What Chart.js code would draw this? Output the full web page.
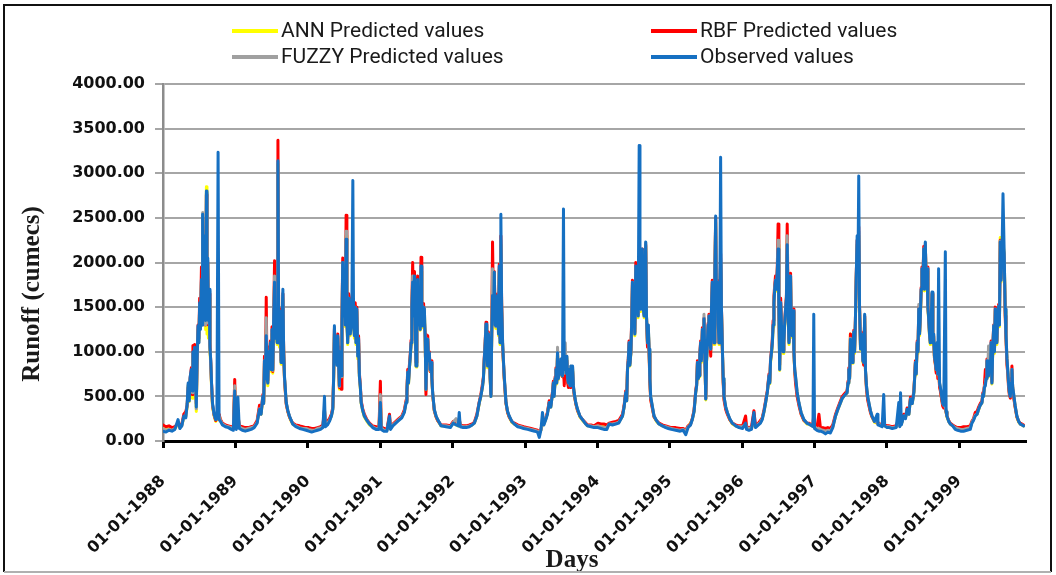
<!DOCTYPE html>
<html>
<head>
<meta charset="utf-8">
<script src="https://cdn.jsdelivr.net/npm/chart.js@4.4.1/dist/chart.umd.min.js"></script>
<style>
  html, body { margin: 0; padding: 0; background: #fff; }
  canvas { display: block; }
</style>
</head>
<body>
<canvas id="runoffChart" width="1056" height="575"></canvas>
<script>
// x axis: day number counted from 01-01-1988
const yearTicks = [0, 366, 731, 1096, 1461, 1827, 2192, 2557, 2922, 3288, 3653, 4018];
const yearLabels = ['01-01-1988', '01-01-1989', '01-01-1990', '01-01-1991', '01-01-1992', '01-01-1993',
                    '01-01-1994', '01-01-1995', '01-01-1996', '01-01-1997', '01-01-1998', '01-01-1999'];

// sample days (one line per year)
const days = [
  0,15,30,45,60,76,85,95,105,115, 122,127,132,137,143,148,151,156,160,165, 168,172,177,181,185,189,194,197,200,203, 206,209,212,215,219,222,226,229,233,237, 241,245,250,258,266,272,278,283,290,300, 315,330,345,355,362,366,
  370,378,385,400,415,430,445,460,475,487, 495,504,508,512,517,521,525,529,533,538, 542,546,550,554,559,563,567,571,576,580, 584,588,592,596,600,605,609,613,618,622, 630,638,647,655,670,689,705,722,
  735,750,765,780,795,807,815,819,830,840, 850,857,861,865,870,874,878,882,886,890, 894,899,903,907,911,916,920,924,928,932, 937,941,945,949,953,958,962,966,970,974, 978,983,987,991,996,1000,1008,1016,1029,1042, 1058,1075,1090,
  1097,1101,1115,1130,1143,1148,1160,1175,1190,1205, 1218,1227,1231,1235,1239,1243,1248,1252,1256,1260, 1264,1269,1273,1277,1281,1285,1289,1294,1298,1302, 1306,1311,1315,1319,1323,1327,1332,1336,1340,1344, 1348,1353,1357,1361,1369,1378,1386,1403,1428,1450,
  1465,1479,1490,1495,1500,1515,1530,1546,1560,1571, 1584,1596,1604,1613,1617,1621,1626,1630,1634,1638, 1642,1647,1651,1655,1659,1663,1668,1672,1676,1680, 1684,1689,1693,1697,1701,1705,1709,1714,1718,1722, 1727,1731,1739,1747,1760,1773,1790,1806,1820,
  1840,1857,1875,1890,1899,1907,1915,1922,1932,1940, 1949,1957,1966,1970,1974,1979,1983,1987,1991,1995, 2000,2004,2008,2012,2016,2021,2025,2030,2034,2038, 2042,2046,2050,2054,2058,2063,2067,2071,2075,2083, 2092,2104,2117,2130,2142,2160,2176,
  2195,2210,2225,2240,2251,2268,2285,2300,2319,2327, 2335,2340,2344,2348,2352,2356,2361,2365,2369,2373, 2377,2381,2386,2390,2394,2398,2403,2407,2411,2415, 2419,2423,2428,2432,2436,2440,2445,2449,2453,2457, 2461,2470,2478,2490,2503,2520,2537,2550,
  2565,2587,2610,2625,2638,2650,2662,2671,2680,2688, 2693,2697,2701,2705,2709,2713,2717,2722,2726,2730, 2734,2739,2743,2747,2751,2755,2760,2764,2768,2772, 2776,2781,2785,2789,2793,2797,2802,2806,2810,2814, 2818,2823,2827,2831,2840,2848,2860,2873,2890,2907,
  2925,2940,2945,2957,2970,2982,2990,3005,3015,3024, 3033,3041,3050,3058,3062,3066,3071,3075,3079,3083, 3087,3091,3096,3100,3104,3108,3112,3117,3121,3125, 3129,3133,3137,3142,3146,3150,3155,3159,3163,3167, 3171,3175,3180,3184,3188,3192,3200,3209,3220,3234, 3250,3259,3275,
  3280,3284,3288,3300,3310,3318,3330,3343,3355,3368, 3380,3394,3405,3419,3428,3436,3444,3452,3457,3461, 3465,3469,3473,3478,3482,3486,3490,3494,3498,3503, 3507,3511,3515,3520,3524,3528,3532,3536,3541,3545, 3550,3556,3562,3570,3578,3590,3604,3608,3620,3629, 3637,3642,3654,
  3665,3680,3700,3713,3718,3722,3726,3738,3747,3755, 3764,3772,3781,3789,3793,3797,3801,3806,3810,3814, 3818,3822,3826,3830,3835,3839,3843,3847,3851,3856, 3860,3864,3868,3872,3876,3881,3885,3889,3893,3898, 3902,3906,3910,3914,3919,3923,3927,3931,3935,3940, 3948,3952,3956,3965,3973,3985,3998,4010,
  4025,4040,4057,4074,4082,4090,4099,4108,4116,4124, 4133,4137,4141,4145,4150,4154,4158,4162,4166,4170, 4175,4179,4183,4187,4192,4196,4200,4204,4208,4212, 4217,4221,4225,4229,4234,4239,4245,4250,4254,4259, 4263,4267,4271,4276,4280,4284,4288,4292,4300,4309, 4318,4326,4335,4343
];

const observed = [
  110,100,120,110,130,240,140,170,280,260, 420,650,450,720,800,560,1000,820,1050,700, 380,900,1290,1100,1550,1250,1810,1300,2540,1600, 2100,1500,2300,1350,2800,1500,2050,1350,1700,1050, 900,650,420,300,240,260,3235,240,220,180, 160,150,130,120,560,150,
  130,490,140,120,110,120,130,150,200,355, 300,500,420,900,700,1180,700,650,1000,840, 1100,800,1250,800,1400,1780,1150,1450,1100,3140, 1200,1100,1450,880,1300,1700,1000,730,560,430, 340,280,230,190,160,140,130,120,
  110,100,110,120,130,150,500,160,180,220, 280,355,700,1290,900,1100,850,1180,900,620, 1000,730,1300,2000,1400,1780,1300,2260,1350,1100, 1600,1550,1200,1290,1450,2920,1300,1180,1500,1100, 1480,950,1150,730,600,430,340,280,230,190, 150,130,130,
  430,130,110,110,280,130,170,200,230,260, 320,430,550,770,650,800,950,1100,1500,1780, 1400,1850,1300,840,1450,1810,1300,1480,1250,1960, 1350,1290,1500,1480,1150,580,1100,1140,900,990, 800,880,700,540,355,280,240,170,160,150,
  200,180,170,320,160,150,150,160,180,200, 280,430,500,620,700,900,1100,1310,1000,840, 1200,1100,700,500,1200,1630,1400,1890,1300,1290, 1500,1630,1200,1960,1100,2540,1500,1100,900,730, 560,430,330,280,220,190,160,150,140,
  130,120,110,100,40,120,320,180,240,300, 430,380,540,650,500,700,800,650,990,700, 770,880,920,750,730,2600,800,950,760,950, 700,650,800,620,840,700,840,620,540,430, 355,280,240,200,170,160,150,
  150,140,130,130,190,180,190,200,280,380, 540,450,800,900,1100,850,990,1300,1780,1400, 1480,1200,1960,1450,1630,1400,3310,1600,1480,1900, 2150,1500,1400,1800,2230,1400,1100,1300,1030,700, 500,380,280,230,190,170,150,140,
  130,120,110,120,70,150,180,240,330,540, 620,880,700,730,950,1100,900,1250,1000,1370, 1000,470,900,1100,1300,1400,1100,1030,1500,1780, 1300,1100,1900,2520,1500,1780,1300,1100,1600,3180, 1500,1030,700,500,380,320,250,200,170,150,
  140,200,130,120,130,320,150,180,200,240, 330,430,550,730,650,900,1000,1100,1300,1550, 1700,1800,1700,1900,2150,1500,800,1550,1300,1250, 1000,1100,1300,1480,1600,2200,1400,1100,1400,1850, 1200,1180,1460,1000,800,730,550,430,320,240, 200,190,170,
  160,1420,140,120,110,110,100,80,100,90, 150,280,350,430,480,500,520,540,650,800, 700,1140,900,880,1100,1220,1000,1330,1800,2300, 1900,2970,1500,1030,1200,1140,900,880,1420,800, 620,500,430,340,280,220,300,180,170,160, 520,170,150,
  150,140,150,430,160,540,180,280,250,355, 300,470,420,540,700,880,750,1100,1000,1480, 1200,1400,1700,1930,1800,2150,1700,2230,1800,1930, 1500,1370,1200,1100,1300,1670,1100,1200,950,880, 800,1100,750,1930,650,600,540,480,420,400, 2120,330,280,220,190,170,130,120,
  110,110,120,130,200,230,280,300,355,400, 430,520,500,600,620,700,900,750,730,900, 800,1100,650,1000,1290,1000,1480,1300,1100,1400, 1510,1300,2230,1800,2110,2770,2110,1480,1200,920, 800,650,550,500,650,800,600,540,400,280, 220,190,180,170
];

const rbfPredicted = [
  180,160,170,150,160,200,180,190,300,330, 400,600,480,700,820,520,1070,850,1080,720, 420,880,1300,1150,1600,1300,1950,1350,2500,1650, 2150,1400,2250,1300,2760,1550,2000,1300,1650,1100, 880,640,400,290,230,250,260,300,240,200, 180,170,160,150,690,200,
  180,300,170,160,150,150,160,170,230,400, 320,520,440,950,740,1610,760,680,1050,880, 1120,850,1280,780,1450,2020,1200,1430,1150,3370, 1250,1150,1480,900,1320,1650,1020,700,530,410, 330,270,230,200,180,170,160,150,
  150,140,140,150,160,180,350,200,220,250, 300,380,720,1250,940,1120,900,1200,920,600, 1050,580,1350,2050,1450,1800,1350,2530,1400,1150, 1650,1600,1250,1350,1500,1550,1350,1250,1550,1150, 1500,980,1180,760,620,450,360,300,240,200, 170,160,150,
  670,160,140,130,300,150,190,220,250,280, 350,460,580,800,680,840,980,1130,1550,2000, 1450,1900,1350,880,1500,1850,1350,1520,1300,2060, 1400,1320,1540,1350,1200,520,1150,1180,950,1000, 780,900,720,520,340,270,230,180,180,170,
  220,190,180,250,180,170,170,180,190,210, 300,440,520,650,720,920,1120,1330,1020,860, 1220,1120,720,520,1250,2230,1450,1900,1350,1300, 1550,1650,1250,1980,1150,2300,1550,1050,880,700, 540,420,320,270,220,200,180,170,160,
  150,140,130,120,100,130,200,200,260,320, 450,400,560,670,520,720,820,670,960,720, 790,860,900,740,720,800,620,900,720,900, 650,600,760,600,800,680,780,600,520,420, 340,280,240,210,180,180,170,
  200,190,190,180,200,210,220,230,300,400, 560,470,820,920,1120,870,1000,1350,1800,1420, 1500,1220,2000,1480,1650,1420,2000,1650,1500,1920, 2150,1520,1420,1820,2200,1380,1050,1250,980,650, 460,360,270,230,200,180,170,160,
  150,150,140,140,120,170,190,250,350,560, 640,900,720,740,970,1120,920,1270,1020,1380, 1000,480,920,1120,1320,1420,1120,950,1520,1800, 1320,1100,1920,2500,1520,1800,1320,1100,1650,2100, 1520,1000,650,460,350,300,240,200,180,170,
  170,280,160,150,160,340,170,200,230,260, 350,450,570,750,670,920,1020,1150,1350,1620, 1750,1850,1750,1950,2430,1550,850,1600,1350,1280, 1020,1120,1320,1500,1620,2430,1420,1120,1550,1880, 1220,1200,1480,1000,780,650,500,400,300,230, 200,200,180,
  180,300,170,150,300,140,150,140,150,140, 180,300,370,450,500,520,540,560,670,820, 720,1200,920,900,1120,1240,1020,1350,1820,2250, 1920,2400,1520,1050,1220,1160,920,850,1400,780, 580,460,400,320,270,220,210,200,190,180, 250,180,170,
  170,160,170,250,180,300,200,300,270,370, 320,490,440,560,720,900,770,1120,1020,1500, 1220,1420,1720,1950,1820,2180,1720,2200,1820,1950, 1520,1380,1220,1120,1320,1650,1120,1180,930,850, 760,1050,700,800,600,560,500,440,390,370, 380,320,280,230,200,180,160,150,
  150,160,160,170,220,250,320,330,380,420, 450,540,540,620,800,720,920,760,740,920, 820,1120,670,1020,1300,1020,1500,1320,1120,1420, 1530,1320,2250,1820,2150,2200,2050,1400,1150,850, 760,600,520,480,700,840,580,500,380,270, 220,200,190,180
];

const annPredicted = [
  150,130,140,130,140,190,160,180,260,280, 380,620,440,680,760,480,980,800,1020,640, 330,860,1250,1120,1500,1270,1780,1330,2480,1580, 2000,1450,2200,1250,2850,1200,1980,1150,1600,1000, 850,600,380,280,220,240,250,290,230,190, 170,160,150,140,600,180,
  160,280,160,150,140,140,150,160,210,370, 300,480,420,880,690,1250,680,620,980,820, 1060,780,1200,760,1380,1800,1130,1400,1080,3100, 1180,1050,1420,860,1280,1600,980,700,540,420, 330,270,220,190,170,160,150,140,
  140,130,130,140,150,160,340,180,200,230, 280,360,680,1200,880,1080,860,1150,880,580, 980,700,1280,1950,1380,1760,1280,2300,1330,1080, 1580,1500,1180,1280,1420,1500,1300,1150,1480,1080, 1450,920,1100,720,580,420,330,270,220,180, 160,150,140,
  500,150,130,120,250,140,180,210,240,270, 330,440,540,760,640,790,940,1080,1480,1850, 1380,1820,1280,830,1420,1780,1280,1460,1240,1900, 1330,1270,1480,1460,1140,560,1080,1120,880,960, 780,860,690,520,340,270,230,170,170,160,
  210,180,170,240,170,160,160,170,180,200, 280,420,500,620,690,880,1080,1280,980,820, 1180,1080,690,500,1200,1800,1380,1850,1280,1260, 1480,1600,1180,1920,1080,2200,1480,1050,870,700, 540,420,320,270,210,190,170,160,150,
  140,130,120,110,90,120,190,190,250,310, 430,380,540,650,500,700,790,640,980,690, 760,860,900,740,720,780,700,920,740,930, 680,640,780,610,820,690,800,610,530,420, 340,270,230,200,170,170,160,
  180,170,160,160,190,190,200,210,280,380, 540,450,790,880,1080,840,980,1280,1750,1380, 1460,1180,1920,1420,1600,1380,1900,1580,1450,1880, 2100,1480,1380,1780,2180,1380,1080,1280,1000,680, 480,370,270,220,190,170,160,150,
  140,130,120,130,110,160,200,240,330,540, 620,870,690,720,940,1080,880,1230,980,1360, 980,460,880,1080,1280,1380,1080,1000,1480,1760, 1280,1080,1880,2450,1480,1760,1280,1080,1580,2000, 1480,1000,680,480,370,310,240,190,170,160,
  160,190,150,140,150,200,160,190,210,250, 330,430,550,720,640,880,980,1080,1280,1540, 1700,1780,1680,1880,2200,1480,790,1520,1280,1230, 980,1080,1280,1460,1580,2250,1380,1080,1380,1820, 1180,1160,1440,980,780,700,530,420,310,230, 190,190,170,
  170,280,160,140,140,130,130,120,130,120, 160,280,350,430,480,500,520,540,650,790, 700,1200,900,870,1080,1200,980,1300,1780,2200, 1880,2300,1480,1020,1180,1120,880,860,1380,780, 600,480,420,330,270,210,200,190,180,170, 240,170,160,
  160,150,160,240,170,280,190,280,260,350, 300,470,420,540,700,870,740,1080,980,1450, 1180,1380,1680,1900,1780,2120,1680,2180,1780,1900, 1480,1350,1180,1080,1280,1640,1080,1180,930,860, 780,1080,730,780,630,580,520,460,410,390, 370,320,270,220,190,170,150,140,
  130,130,140,150,210,240,290,300,350,400, 430,520,500,600,650,700,880,740,720,880, 790,1080,640,980,1270,980,1460,1280,1080,1380, 1500,1280,2280,1780,2100,2250,2080,1450,1180,900, 780,630,540,490,640,780,590,520,390,270, 210,190,180,170
];

const fuzzyPredicted = [
  140,120,130,120,140,200,150,170,270,270, 400,630,450,700,780,540,990,810,1040,680, 360,880,1280,1100,1530,1260,1800,1300,2560,1600, 2080,1480,2280,1300,2780,1480,2020,1320,1680,1050, 890,630,410,290,240,250,260,280,230,190, 170,160,150,140,620,170,
  150,290,160,140,130,140,150,160,210,360, 300,500,420,900,700,1380,720,650,1000,830, 1090,800,1240,790,1400,1850,1150,1450,1100,3120, 1200,1100,1450,880,1300,1650,1000,720,550,430, 340,280,230,190,170,150,140,140,
  130,120,120,140,150,160,350,180,200,230, 280,360,690,1270,900,1100,860,1170,900,610, 1000,720,1300,2000,1400,1780,1300,2350,1350,1100, 1600,1540,1200,1290,1450,1520,1300,1180,1500,1100, 1470,950,1140,730,600,430,340,280,230,190, 160,140,140,
  520,150,120,120,260,140,180,210,240,270, 330,440,550,770,650,800,950,1100,1500,1850, 1400,1840,1300,840,1450,1800,1300,1480,1250,1950, 1350,1300,1500,1480,1150,580,1100,1140,900,980, 790,880,700,530,350,280,240,170,170,160,
  210,250,170,240,170,160,160,170,180,200, 280,430,500,620,700,900,1100,1300,1000,840, 1200,1100,700,500,1200,1930,1400,1880,1300,1280, 1500,1620,1200,1950,1100,2250,1500,1080,900,720, 550,430,330,280,220,190,170,160,150,
  140,130,120,110,90,120,200,190,250,310, 430,380,540,650,500,700,800,650,1050,700, 770,880,920,750,730,820,760,1100,780,950, 700,650,800,620,840,700,830,620,540,430, 350,280,240,200,170,170,160,
  170,160,150,150,190,190,200,210,280,380, 540,450,800,900,1100,850,990,1300,1780,1400, 1480,1200,1950,1450,1620,1400,1950,1600,1470,1900, 2130,1500,1400,1800,2220,1400,1100,1300,1020,700, 500,380,280,230,190,170,160,150,
  140,130,120,130,110,160,180,240,330,540, 620,880,700,730,950,1100,900,1250,1000,1420, 1000,470,900,1100,1300,1400,1100,1030,1500,1780, 1300,1100,1900,2480,1500,1780,1300,1100,1600,2050, 1500,1020,700,500,380,320,250,200,170,160,
  160,190,150,140,150,200,160,190,210,250, 330,430,550,730,650,900,1000,1100,1300,1550, 1720,1800,1700,1900,2250,1500,800,1550,1300,1250, 1000,1100,1300,1480,1600,2300,1400,1100,1400,1850, 1200,1180,1460,1000,800,720,550,430,320,240, 200,190,170,
  170,290,160,140,140,130,120,110,120,110, 160,280,350,430,480,500,520,540,650,800, 700,1150,900,880,1100,1220,1000,1330,1800,2250, 1900,2350,1500,1030,1200,1140,900,880,1400,800, 620,500,430,340,280,220,210,190,180,170, 240,170,160,
  160,150,160,240,170,290,190,280,260,350, 300,470,420,540,700,880,750,1100,1000,1530, 1200,1400,1700,1930,1800,2150,1700,2220,1800,1930, 1500,1370,1200,1100,1300,1660,1100,1200,950,880, 800,1100,750,800,650,600,540,480,420,400, 380,330,280,220,190,170,150,140,
  130,130,140,150,210,240,290,300,350,400, 430,520,500,600,650,700,900,780,1065,900, 800,1100,650,1000,1290,1000,1480,1300,1100,1400, 1510,1300,2240,1800,2120,2200,2100,1480,1200,920, 800,650,550,500,650,800,600,540,400,280, 220,190,180,170
];

function toPoints(values) {
    return values.map((v, i) => ({ x: days[i], y: v }));
}

function makeSeries(label, values, color, order) {
    return {
        label,
        data: toPoints(values),
        borderColor: color,
        backgroundColor: color,
        borderWidth: 3,
        pointRadius: 0,
        borderJoinStyle: 'round',
        borderCapStyle: 'round',
        tension: 0,
        order
    };
}

// legend is laid out in two columns like the original sheet
const legendSlots = [
    { label: 'ANN Predicted values',   color: '#ffff00', col: 0, row: 0 },
    { label: 'RBF Predicted values',   color: '#ff0000', col: 1, row: 0 },
    { label: 'FUZZY Predicted values', color: '#a0a0a0', col: 0, row: 1 },
    { label: 'Observed values',        color: '#1670c2', col: 1, row: 1 }
];

const decorations = {
    id: 'decorations',
    beforeDraw(chart) {
        const ctx = chart.ctx;
        ctx.save();
        ctx.fillStyle = '#fff';
        ctx.fillRect(0, 0, chart.width, chart.height);
        ctx.restore();
    },
    afterDraw(chart) {
        const ctx = chart.ctx;
        ctx.save();

        // legend
        const colX = [232, 651];
        const rowY = [31, 57];
        ctx.font = '21px Roboto, "DejaVu Sans Condensed", sans-serif';
        ctx.textBaseline = 'middle';
        ctx.textAlign = 'left';
        legendSlots.forEach(item => {
            const x = colX[item.col], y = rowY[item.row];
            ctx.strokeStyle = item.color;
            ctx.lineWidth = 4;
            ctx.beginPath();
            ctx.moveTo(x, y);
            ctx.lineTo(x + 46, y);
            ctx.stroke();
            ctx.fillStyle = '#1a1a1a';
            ctx.fillText(item.label, x + 49, y + 1);
        });

        // axis titles
        ctx.fillStyle = '#1a1a1a';
        ctx.font = 'bold 25px "Liberation Serif", serif';
        ctx.textAlign = 'center';
        ctx.textBaseline = 'middle';
        ctx.fillText('Days', 572, 561);
        ctx.translate(33, 294);
        ctx.rotate(-Math.PI / 2);
        ctx.fillText('Runoff (cumecs)', 0, 0);
        ctx.setTransform(1, 0, 0, 1, 0, 0);

        // frame
        ctx.strokeStyle = '#111';
        ctx.lineWidth = 2;
        ctx.beginPath();
        ctx.moveTo(4, 572);
        ctx.lineTo(4, 5);
        ctx.lineTo(1051, 5);
        ctx.lineTo(1051, 572);
        ctx.stroke();
        ctx.strokeStyle = '#b0b0b0';
        ctx.beginPath();
        ctx.moveTo(4, 572);
        ctx.lineTo(1051, 572);
        ctx.stroke();
        ctx.restore();
    }
};

new Chart(document.getElementById('runoffChart'), {
    type: 'line',
    data: {
        datasets: [
            makeSeries('ANN Predicted values', annPredicted, '#ffff00', 3),
            makeSeries('RBF Predicted values', rbfPredicted, '#ff0000', 2),
            makeSeries('FUZZY Predicted values', fuzzyPredicted, '#a0a0a0', 1),
            makeSeries('Observed values', observed, '#1670c2', 0)
        ]
    },
    options: {
        responsive: false,
        animation: false,
        parsing: false,
        normalized: true,
        layout: { padding: { top: 84, right: 31, left: 0, bottom: 0 } },
        plugins: {
            legend: { display: false },
            tooltip: { enabled: false }
        },
        scales: {
            x: {
                type: 'linear',
                min: 0,
                max: 4350,
                afterBuildTicks: axis => { axis.ticks = yearTicks.map(v => ({ value: v })); },
                afterFit: axis => { axis.height = 134; },
                ticks: {
                    autoSkip: false,
                    minRotation: 45,
                    maxRotation: 45,
                    padding: 24,
                    color: '#111',
                    font: { family: 'DejaVu Sans', size: 16, weight: 'bold' },
                    callback: v => yearLabels[yearTicks.indexOf(v)]
                },
                grid: { drawOnChartArea: false, drawTicks: true, tickLength: 7, color: '#000', lineWidth: 3 },
                border: { color: '#000', width: 3 }
            },
            y: {
                min: 0,
                max: 4000,
                afterFit: axis => { axis.width = 163; },
                ticks: {
                    stepSize: 500,
                    padding: 10,
                    color: '#111',
                    font: { family: 'DejaVu Sans', size: 16, weight: 'bold' },
                    callback: v => v.toFixed(2)
                },
                grid: { color: '#a6a6a6', lineWidth: 2, tickLength: 8 },
                border: { color: '#8c8c8c', width: 2.5 }
            }
        }
    },
    plugins: [decorations]
});
</script>
</body>
</html>
